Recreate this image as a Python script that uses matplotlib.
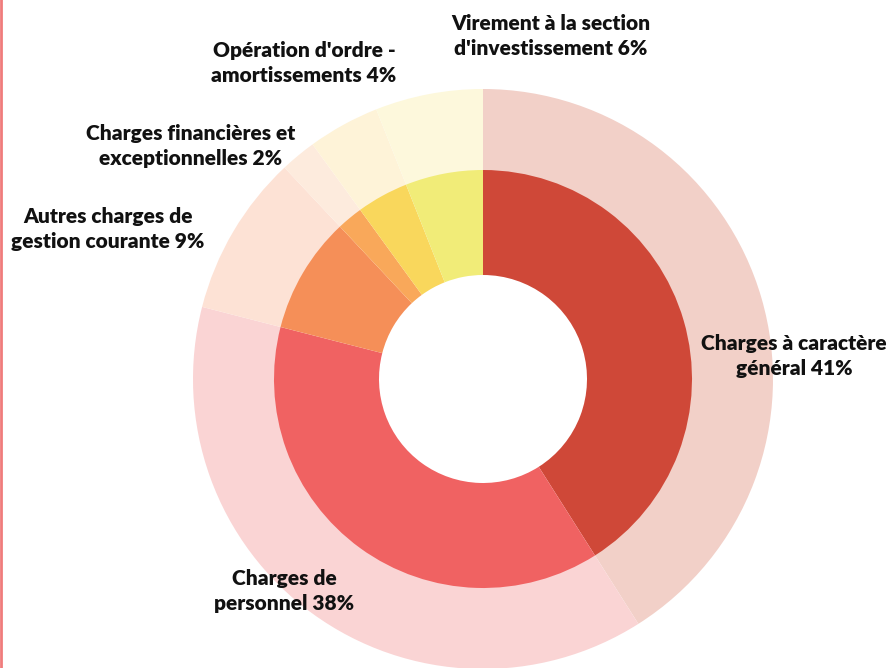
import matplotlib.pyplot as plt

# budget share by section (%)
labels = ["Charges à caractère\ngénéral 41%",
          "Charges de\npersonnel 38%",
          "Autres charges de\ngestion courante 9%",
          "Charges financières et\nexceptionnelles 2%",
          "Opération d'ordre -\namortissements 4%",
          "Virement à la section\nd'investissement 6%"]
values = [41, 38, 9, 2, 4, 6]

inner_colors = ["#CF4838", "#F06262", "#F58F58", "#F9A85A", "#F9D75C", "#F1EC78"]
outer_colors = ["#F2D0C8", "#FAD4D4", "#FDE2D5", "#FDEBDD", "#FEF3D8", "#FDF8DC"]

# label centres in pixel coords (x, y from top)
label_pos = [(794, 356), (284, 591), (108, 229), (191, 146), (304, 63), (551, 36)]

W, H = 893, 668
fig = plt.figure(figsize=(W / 100, H / 100), dpi=100)
ax = fig.add_axes([0, 0, 1, 1])

cx, cy = 483, H - 379
ax.pie(values, radius=290, center=(cx, cy), startangle=90, counterclock=False,
       colors=outer_colors, wedgeprops=dict(width=82, linewidth=0))
ax.pie(values, radius=209, center=(cx, cy), startangle=90, counterclock=False,
       colors=inner_colors, wedgeprops=dict(width=105, linewidth=0))

for lab, (x, y) in zip(labels, label_pos):
    ax.text(x, H - y, lab, ha="center", va="center", fontsize=15,
            fontweight="heavy", family="Lato", color="#111111", linespacing=1.36)

ax.set_xlim(0, W)
ax.set_ylim(0, H)
ax.set_aspect("equal")
ax.axis("off")
# thin red border on the left edge
ax.axvline(1, color="#F07C7C", linewidth=2)

fig.savefig("out.png", dpi=100)
plt.close(fig)
